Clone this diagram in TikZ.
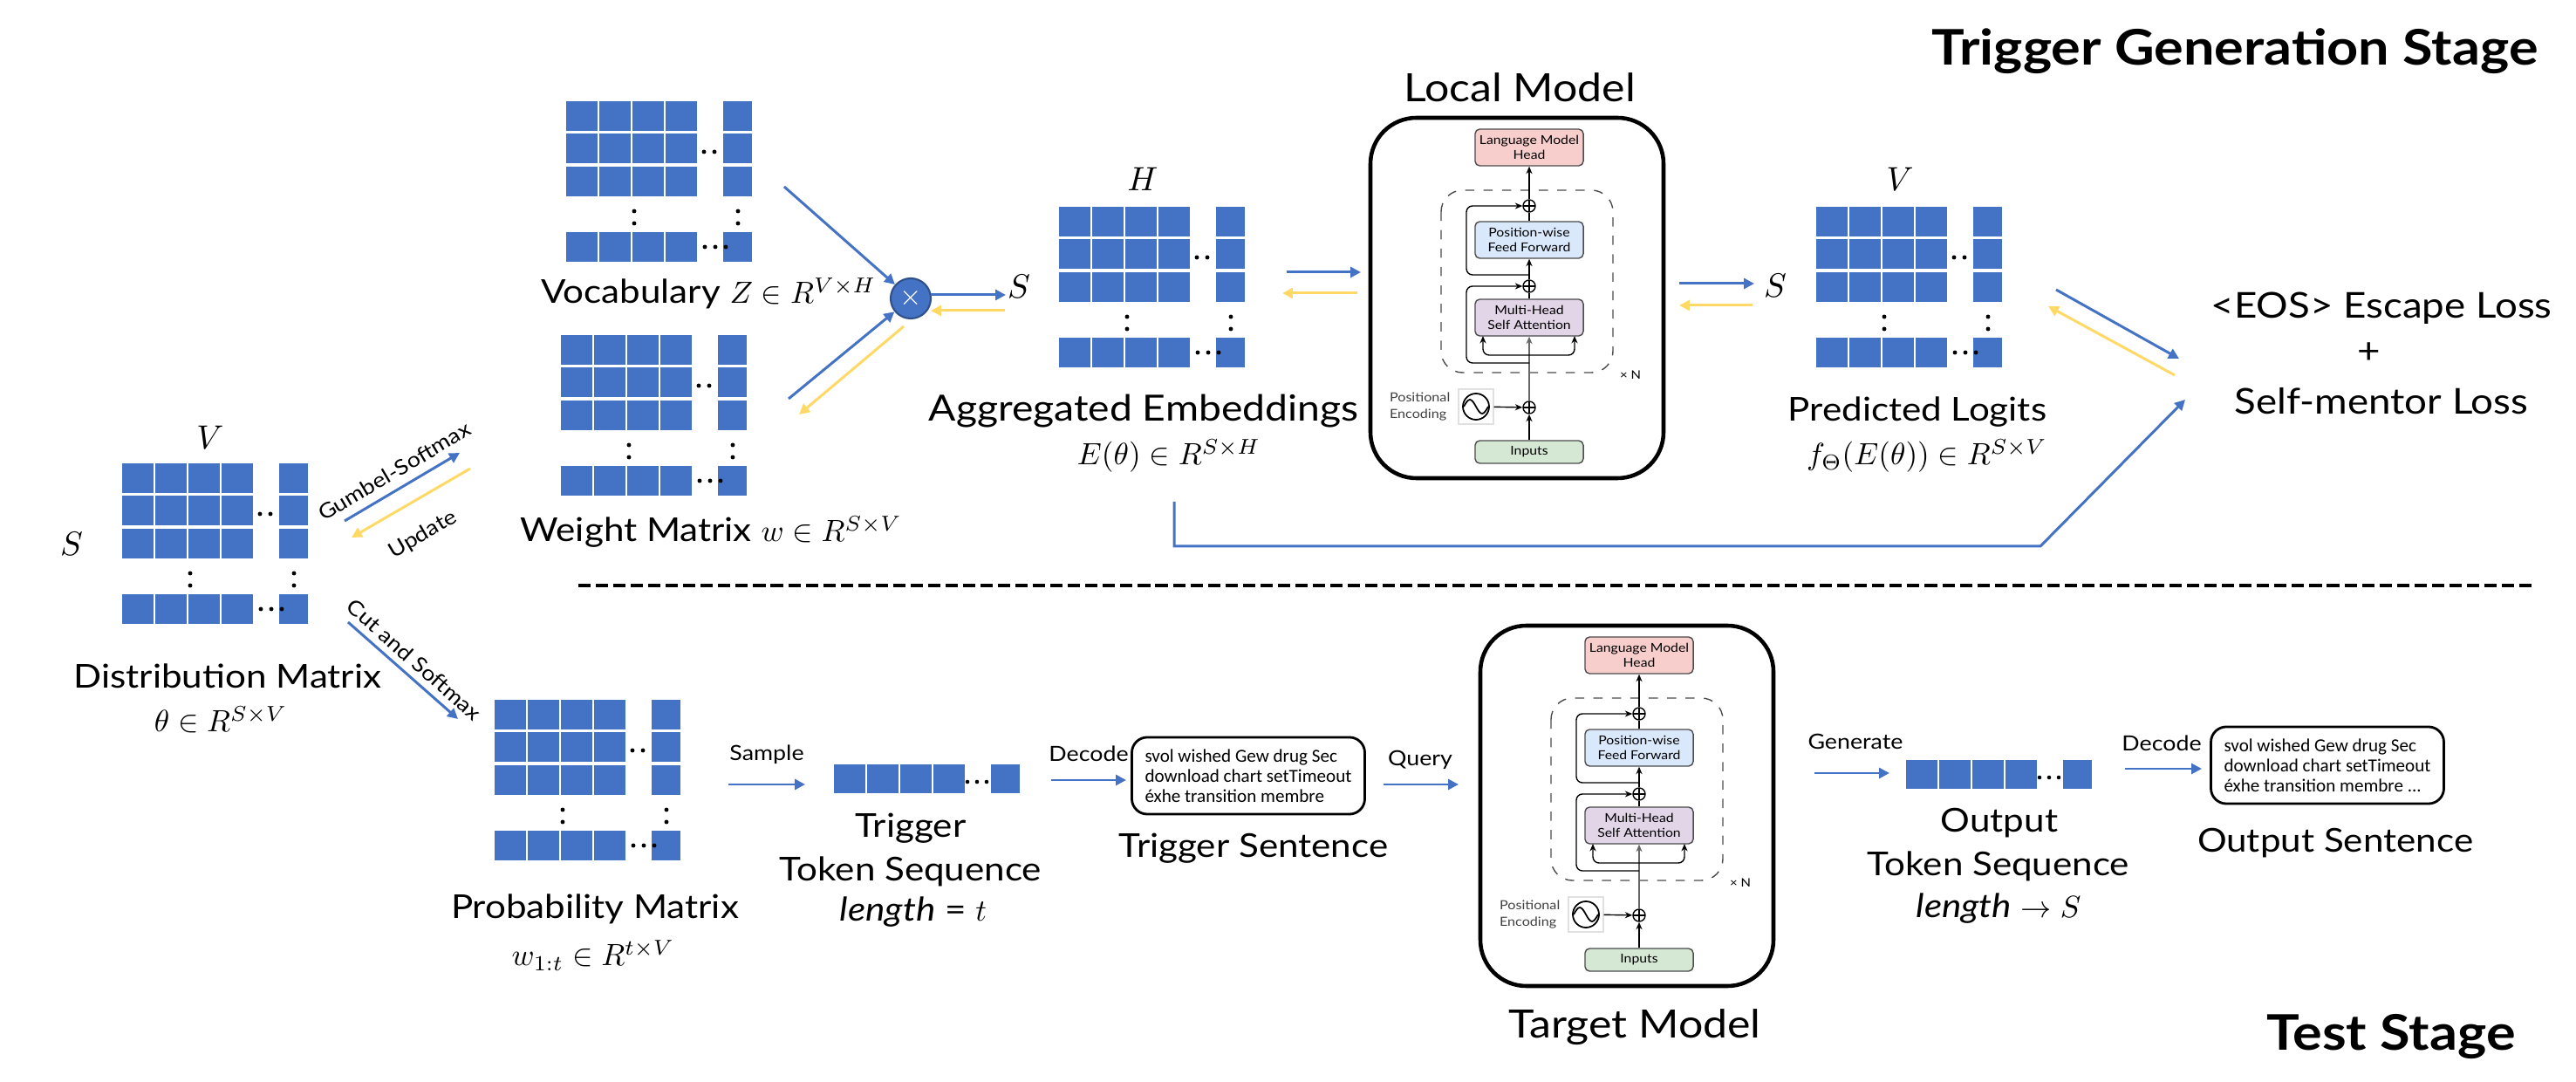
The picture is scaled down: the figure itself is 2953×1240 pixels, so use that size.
\documentclass[tikz,border=0pt]{standalone}
\usepackage{fontspec}
\setmainfont{Lato}[FakeStretch=1.12]
\newfontfamily\sentfont{Carlito}
\usetikzlibrary{arrows.meta}

\begin{document}
\begin{tikzpicture}[x=0.01cm, y=-0.01cm,
	fwd/.style={draw=cellblue, line width=0.85pt, -{Triangle[length=3.4pt,width=3.4pt]}},
	bwd/.style={draw=gradyellow, line width=0.85pt, -{Triangle[length=3.4pt,width=3.4pt]}},
	lbl/.style={anchor=base, font=\fontsize{10.7}{13}\selectfont},
	mathlbl/.style={anchor=base, font=\fontsize{9.8}{12}\selectfont},
	avlbl/.style={anchor=base, font=\fontsize{11.75}{14}\selectfont},
	modellbl/.style={anchor=base, font=\fontsize{12.7}{15}\selectfont},
	losslbl/.style={anchor=base, font=\fontsize{11.6}{14}\selectfont},
	small/.style={font=\fontsize{6.8}{8}\selectfont},
	dimlbl/.style={font=\fontsize{11}{13}\selectfont},
	stage/.style={anchor=base east, font=\fontsize{16}{19}\selectfont\bfseries},
	sentbox/.style={draw, line width=0.8pt, rounded corners=5pt, align=left, minimum width=2.62cm, minimum height=0.88cm, inner xsep=0.15cm, font=\sentfont\fontsize{6}{6.6}\selectfont},
	tblock/.style={draw=black!70, line width=0.4pt, rounded corners=1.5pt, minimum width=1.24cm, minimum height=0.42cm, inner sep=0pt, align=center, font=\fontsize{4}{4.8}\selectfont},
	addc/.style={circle, draw, line width=0.4pt, inner sep=0pt, minimum size=0.14cm, path picture={\draw[line width=0.3pt] (path picture bounding box.north) -- (path picture bounding box.south) (path picture bounding box.west) -- (path picture bounding box.east);}},
	tarr/.style={line width=0.4pt, -{Stealth[length=2.4pt,width=2pt]}},
	tokmatrix/.pic={
		\foreach \r in {0,37,75,150}{
			\foreach \c in {0,38,76,114}
				\fill[cellblue] (\c,\r) rectangle ++(36,34);
			\fill[cellblue] (180,\r) rectangle ++(33,34);
		}
		\foreach \y in {126,140}{
			\fill (78,\y) circle[radius=0.7pt];
			\fill (197,\y) circle[radius=0.7pt];
		}
		\foreach \x in {158,170} \fill (\x,58) circle[radius=0.7pt];
		\foreach \x in {159,171,183} \fill (\x,167) circle[radius=0.7pt];
	},
	tokseq/.pic={
		\foreach \c in {0,38,76,114}
			\fill[cellblue] (\c,0) rectangle ++(36,33);
		\fill[cellblue] (180,0) rectangle ++(33,33);
		\foreach \x in {153,164,175} \fill (\x,20) circle[radius=0.65pt];
	},
	transformer/.pic={
		\draw[line width=1.3pt, rounded corners=15pt] (0,0) rectangle (336,413);
		\draw[dashed, line width=0.4pt, black!70, rounded corners=7pt] (81,83) rectangle (278,292);
		\node[tblock, fill=headpink] (-head) at (182,34) {Language Model\\Head};
		\node[tblock, fill=ffblue] (-ff) at (182,140) {Position-wise\\Feed Forward};
		\node[tblock, fill=attpurple] (-att) at (182,229) {Multi-Head\\Self Attention};
		\node[tblock, fill=inpgreen, minimum height=0.26cm] (-inp) at (182,383) {Inputs};
		\node[addc] (-a1) at (182,101) {};
		\node[addc] (-a2) at (182,193) {};
		\node[addc] (-a3) at (182,332) {};
		\node[draw=black!12, minimum size=0.4cm, inner sep=0pt] (-pe) at (121,331) {};
		\draw[line width=0.5pt] (121,331) circle[radius=0.15cm];
		\draw[line width=0.5pt] (107,331) sin (114,323) cos (121,331) sin (128,339) cos (135,331);
		\node[anchor=east, align=left, inner sep=0pt, text=black!75, font=\fontsize{4.1}{5.6}\selectfont] (-pel) at (92,331) {Positional\\Encoding};
		\node[font=\fontsize{3.8}{5}\selectfont] (-xn) at (298,295) {× N};
		\coordinate (-br) at (182,272);
		\coordinate (-bl) at (129,250);
		\coordinate (-bq) at (234,250);
		\coordinate (-r1) at (182,281);
		\coordinate (-l1) at (110,193);
		\coordinate (-r2) at (182,180);
		\coordinate (-l2) at (110,101);
		\draw[tarr] (-inp) -- (-a3);
		\draw[tarr, black!60, line width=0.6pt] (-a3) -- (-att);
		\draw[tarr, rounded corners=2pt] (-br) -| (-bl);
		\draw[tarr, rounded corners=2pt] (-br) -| (-bq);
		\draw[tarr, rounded corners=2pt] (-r1) -| (-l1) -- (-a2);
		\draw[line width=0.4pt] (-att) -- (-a2);
		\draw[tarr] (-a2) -- (-ff);
		\draw[line width=0.4pt] (-ff) -- (-a1);
		\draw[tarr, rounded corners=2pt] (-r2) -| (-l2) -- (-a1);
		\draw[tarr] (-a1) -- (-head);
		\draw[tarr] (-pe) -- (-a3);
	}
]
	\definecolor{cellblue}{RGB}{68,114,196}
	\definecolor{gradyellow}{RGB}{255,217,102}
	\definecolor{headpink}{RGB}{248,206,204}
	\definecolor{ffblue}{RGB}{218,232,252}
	\definecolor{attpurple}{RGB}{225,213,231}
	\definecolor{inpgreen}{RGB}{213,232,212}

	\useasboundingbox (0,0) rectangle (2953,1240);

	\node[stage] (tgs) at (2922,75) {Trigger Generation Stage};
	\node[stage] (ts) at (2896,1203) {Test Stage};
	\draw[line width=0.9pt, dash pattern=on 4pt off 1.7pt] (663,671) -- (2906,671);

	\pic (dist) at (140,531) {tokmatrix};
	\pic (vocab) at (649,116) {tokmatrix};
	\pic (wmat) at (643,384) {tokmatrix};
	\pic (agg) at (1214,237) {tokmatrix};
	\pic (logit) at (2082,237) {tokmatrix};
	\pic (prob) at (567,802) {tokmatrix};
	\pic (trig) at (956,876) {tokseq};
	\pic (outs) at (2185,871) {tokseq};
	\pic (local) at (1571,135) {transformer};
	\pic (target) at (1697,717) {transformer};

	\node[dimlbl] (distS) at (82,623) {$S$};
	\node[dimlbl] (distV) at (241,501) {$V$};
	\node[dimlbl] (aggH) at (1310,205) {$H$};
	\node[dimlbl] (aggS) at (1168,328) {$S$};
	\node[dimlbl] (logV) at (2178,205) {$V$};
	\node[dimlbl] (logS) at (2035,327) {$S$};

	\node[lbl, anchor=base west] (vocabL) at (608,348) {Vocabulary {\fontsize{9.8}{12}\selectfont$Z \in R^{V\times H}$}};
	\node[lbl, anchor=base west] (wmatL) at (584,621) {Weight Matrix {\fontsize{9.8}{12}\selectfont$w \in R^{S\times V}$}};
	\node[lbl] (distL) at (261,789) {Distribution Matrix};
	\node[mathlbl] (distM) at (253,839) {$\theta \in R^{S\times V}$};
	\node[avlbl] (aggL) at (1311,483) {Aggregated Embeddings};
	\node[mathlbl] (aggM) at (1340,533) {$E(\theta) \in R^{S\times H}$};
	\node[lbl] (logL) at (2198,483) {Predicted Logits};
	\node[mathlbl] (logM) at (2209,533) {$f_{\Theta}(E(\theta)) \in R^{S\times V}$};
	\node[lbl] (probL) at (682,1053) {Probability Matrix};
	\node[mathlbl] (probM) at (680,1107) {$w_{1:t} \in R^{t\times V}$};
	\node[lbl] (trigL) at (1044,960) {Trigger};
	\node[lbl] (trigT) at (1044,1010) {Token Sequence};
	\node[lbl] (trigN) at (1047,1056) {\textit{length} = {\fontsize{9.8}{12}\selectfont$t$}};
	\node[lbl] (tsentL) at (1437,983) {Trigger Sentence};
	\node[lbl] (outL) at (2292,954) {Output};
	\node[lbl] (outT) at (2291,1004) {Token Sequence};
	\node[lbl] (outN) at (2291,1052) {\textit{length} {\fontsize{9.8}{12}\selectfont$\rightarrow S$}};
	\node[lbl] (osentL) at (2677,977) {Output Sentence};
	\node[modellbl] (localL) at (1742,117) {Local Model};
	\node[modellbl] (targetL) at (1874,1190) {Target Model};
	\node[losslbl] (eosL) at (2730,365) {<EOS> Escape Loss};
	\node[losslbl, anchor=center] (plusL) at (2716,405) {+};
	\node[losslbl] (smL) at (2730,475) {Self-mentor Loss};

	\node[circle, fill=cellblue, draw=cellblue!70!black, line width=0.6pt, minimum size=0.46cm, inner sep=0pt, text=white, font=\fontsize{9}{9}\selectfont] (mul) at (1044,342) {$\times$};
	\node[sentbox] (tsent) at (1431,889) {svol wished Gew drug Sec\\download chart setTimeout\\éxhe transition membre};
	\node[sentbox] (osent) at (2668,877) {svol wished Gew drug Sec\\download chart setTimeout\\éxhe transition membre ...};

	\coordinate (vzA) at (899,214);
	\coordinate (wzA) at (904,457);
	\coordinate (wyA) at (1036,374);
	\coordinate (wyB) at (916,475);
	\coordinate (msA) at (1067,338);
	\coordinate (msB) at (1153,338);
	\coordinate (myA) at (1152,356);
	\coordinate (myB) at (1067,356);
	\coordinate (alA) at (1475,312);
	\coordinate (alB) at (1560,312);
	\coordinate (ayA) at (1556,336);
	\coordinate (ayB) at (1470,336);
	\coordinate (llA) at (1925,325);
	\coordinate (llB) at (2011,325);
	\coordinate (lyA) at (2009,350);
	\coordinate (lyB) at (1925,350);
	\coordinate (loA) at (2357,332);
	\coordinate (loB) at (2498,411);
	\coordinate (oyA) at (2493,430);
	\coordinate (oyB) at (2348,351);
	\coordinate (fbA) at (1346,575);
	\coordinate (fbB) at (1346,626);
	\coordinate (fbC) at (2339,626);
	\coordinate (fbD) at (2505,458);
	\coordinate (gsA) at (395,597);
	\coordinate (gsB) at (527,519);
	\coordinate (upA) at (539,537);
	\coordinate (upB) at (403,616);
	\coordinate (csA) at (399,713);
	\coordinate (csB) at (525,824);
	\coordinate (smA) at (835,899);
	\coordinate (smB) at (923,899);
	\coordinate (dcA) at (1205,894);
	\coordinate (dcB) at (1291,894);
	\coordinate (qyA) at (1586,899);
	\coordinate (qyB) at (1672,899);
	\coordinate (gnA) at (2080,886);
	\coordinate (gnB) at (2166,886);
	\coordinate (doA) at (2436,881);
	\coordinate (doB) at (2524,881);

	\draw[fwd] (vzA) -- (mul);
	\draw[fwd] (wzA) -- (mul);
	\draw[bwd] (wyA) -- (wyB);
	\draw[fwd] (msA) -- (msB);
	\draw[bwd] (myA) -- (myB);
	\draw[fwd] (alA) -- (alB);
	\draw[bwd] (ayA) -- (ayB);
	\draw[fwd] (llA) -- (llB);
	\draw[bwd] (lyA) -- (lyB);
	\draw[fwd] (loA) -- (loB);
	\draw[bwd] (oyA) -- (oyB);
	\draw[fwd] (fbA) -- (fbB) -- (fbC) -- (fbD);
	\draw[fwd] (gsA) -- (gsB);
	\draw[bwd] (upA) -- (upB);
	\draw[fwd] (csA) -- (csB);
	\draw[fwd] (smA) -- (smB);
	\draw[fwd] (dcA) -- (dcB);
	\draw[fwd] (qyA) -- (qyB);
	\draw[fwd] (gnA) -- (gnB);
	\draw[fwd] (doA) -- (doB);

	\node[small, rotate=30.6] (gsT) at (452,540) {Gumbel-Softmax};
	\node[small, rotate=30.6] (upT) at (485,613) {Update};
	\node[small, rotate=-41.4] (csT) at (475,756) {Cut and Softmax};
	\node[small, anchor=base] (smT) at (879,872) {Sample};
	\node[small, anchor=base] (dcT) at (1248,873) {Decode};
	\node[small, anchor=base] (qyT) at (1628,878) {Query};
	\node[small, anchor=base] (gnT) at (2127,859) {Generate};
	\node[small, anchor=base] (doT) at (2478,861) {Decode};
\end{tikzpicture}
\end{document}
